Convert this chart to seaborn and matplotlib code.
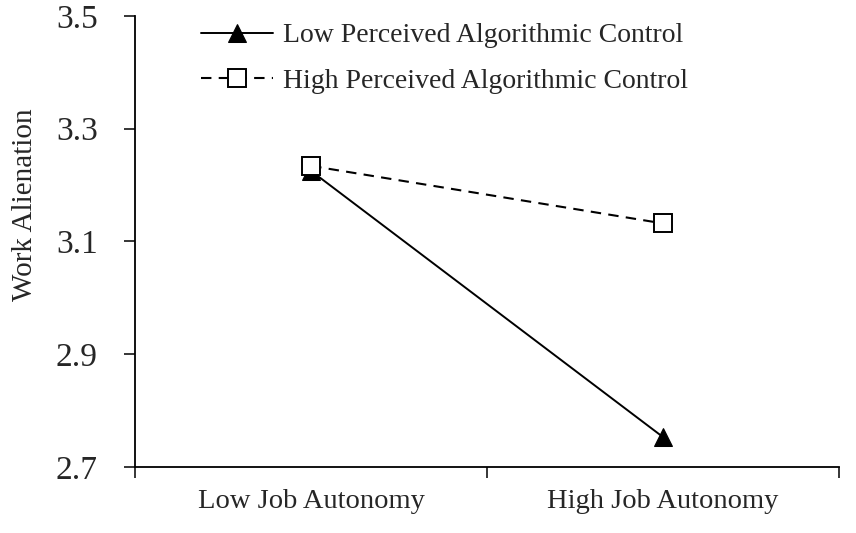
import numpy as np
import pandas as pd
import matplotlib.pyplot as plt
import seaborn as sns

# data
autonomy = ["Low Job Autonomy", "High Job Autonomy"]
low_pac = [3.225, 2.753]    # Low Perceived Algorithmic Control
high_pac = [3.234, 3.132]   # High Perceived Algorithmic Control
yticks = [2.7, 2.9, 3.1, 3.3, 3.5]

sns.set_style("ticks")
plt.rcParams['font.family'] = ['Liberation Serif', 'DejaVu Serif']

df_low = pd.DataFrame({"autonomy": autonomy, "alienation": low_pac})
df_high = pd.DataFrame({"autonomy": autonomy, "alienation": high_pac})

fig, ax = plt.subplots(figsize=(8.56, 5.33), dpi=100)
fig.subplots_adjust(left=0.158, right=0.980, bottom=0.124, top=0.970)

sns.lineplot(data=df_low, x="autonomy", y="alienation", ax=ax, color="black",
             marker="^", markersize=13, markerfacecolor="black", markeredgecolor="black",
             linewidth=1.4, sort=False, label="Low Perceived Algorithmic Control")
sns.lineplot(data=df_high, x="autonomy", y="alienation", ax=ax, color="black",
             marker="s", markersize=13, markerfacecolor="white", markeredgecolor="black",
             markeredgewidth=1.4, linewidth=1.5, sort=False, linestyle=(0, (5, 3.5)),
             label="High Perceived Algorithmic Control")

ax.set_ylim(2.7, 3.5)
ax.set_yticks(yticks)
ax.set_yticklabels([f"{v:.1f}" for v in yticks], fontsize=24)
ax.set_xlim(-0.5, 1.5)
ax.set_xticks([0, 1])
ax.set_xticklabels(autonomy, fontsize=20.5)
ax.set_xticks([-0.5, 0.5, 1.5], minor=True)
ax.tick_params(axis="x", which="major", length=0, pad=16)
ax.tick_params(axis="x", which="minor", length=8, width=1.3, direction="out")
ax.tick_params(axis="y", length=8, width=1.3, direction="out", pad=19)

ax.set_xlabel("")
ax.set_ylabel("Work Alienation", fontsize=21)
ax.yaxis.set_label_coords(-0.138, 0.581)
sns.despine(ax=ax)
for s in ["left", "bottom"]:
    ax.spines[s].set_linewidth(1.3)
    ax.spines[s].set_color("black")

ax.legend(loc="upper left", bbox_to_anchor=(0.058, 1.04), frameon=False, fontsize=20,
          handlelength=2.6, handletextpad=0.35, labelspacing=0.72)

fig.savefig("out.png", dpi=100)
